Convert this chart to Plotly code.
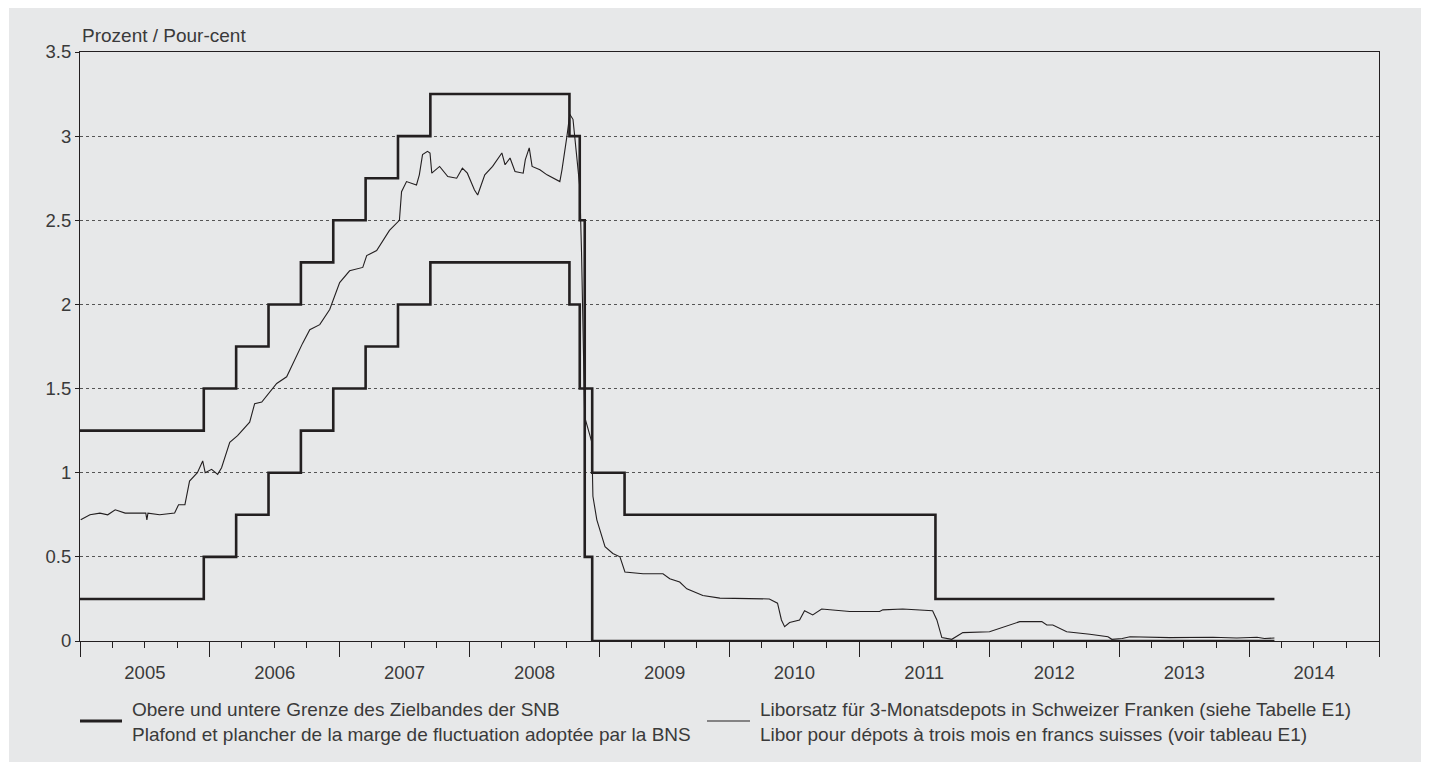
import plotly.graph_objects as go

# SNB target band (upper / lower), step changes
band_dates = ["2005-01-01", "2005-12-15", "2006-03-16", "2006-06-15", "2006-09-14",
              "2006-12-14", "2007-03-15", "2007-06-14", "2007-09-13", "2008-10-08",
              "2008-11-06", "2008-11-20", "2008-12-11", "2009-03-12", "2011-08-03",
              "2014-03-13"]
band_upper = [1.25, 1.5, 1.75, 2.0, 2.25, 2.5, 2.75, 3.0, 3.25, 3.0,
              2.5, 1.5, 1.0, 0.75, 0.25, 0.25]
band_lower = [0.25, 0.5, 0.75, 1.0, 1.25, 1.5, 1.75, 2.0, 2.25, 2.0,
              1.5, 0.5, 0.0, 0.0, 0.0, 0.0]

# 3-month CHF Libor
libor_dates = [
    "2005-01-03", "2005-01-29", "2005-02-26", "2005-03-20", "2005-04-10", "2005-05-08",
    "2005-06-18", "2005-07-05", "2005-07-08", "2005-07-11", "2005-08-13", "2005-09-24",
    "2005-10-05", "2005-10-23", "2005-11-05", "2005-11-27", "2005-12-12", "2005-12-19",
    "2006-01-06", "2006-01-23", "2006-02-03", "2006-02-26", "2006-03-20", "2006-04-23",
    "2006-05-07", "2006-05-27", "2006-07-08", "2006-08-05", "2006-09-19", "2006-10-09",
    "2006-11-06", "2006-12-04", "2007-01-01", "2007-01-29", "2007-03-07", "2007-03-18",
    "2007-04-15", "2007-05-21", "2007-06-18", "2007-06-24", "2007-07-08", "2007-08-05",
    "2007-08-13", "2007-08-22", "2007-09-05", "2007-09-12", "2007-09-17", "2007-10-09",
    "2007-11-01", "2007-11-26", "2007-12-12", "2007-12-26", "2008-01-15", "2008-01-24",
    "2008-02-13", "2008-03-06", "2008-04-01", "2008-04-10", "2008-04-24", "2008-05-08",
    "2008-05-31", "2008-06-06", "2008-06-17", "2008-06-25", "2008-07-17", "2008-08-06",
    "2008-09-11", "2008-09-17", "2008-10-01", "2008-10-09", "2008-10-18", "2008-10-29",
    "2008-11-06", "2008-11-11", "2008-11-20", "2008-12-10", "2008-12-13", "2008-12-24",
    "2009-01-16", "2009-02-07", "2009-02-27", "2009-03-13", "2009-05-03", "2009-06-28",
    "2009-07-17", "2009-08-14", "2009-09-03", "2009-10-18", "2009-12-05", "2010-04-23",
    "2010-05-16", "2010-05-27", "2010-06-05", "2010-06-19", "2010-07-17", "2010-07-31",
    "2010-08-23", "2010-09-17", "2010-12-05", "2011-02-27", "2011-03-08", "2011-05-03",
    "2011-07-26", "2011-08-07", "2011-08-21", "2011-09-18", "2011-10-19", "2012-01-02",
    "2012-01-30", "2012-03-27", "2012-05-28", "2012-06-11", "2012-06-28", "2012-08-06",
    "2012-10-10", "2012-11-30", "2012-12-11", "2013-01-09", "2013-01-31", "2013-05-23",
    "2013-09-21", "2013-11-27", "2014-01-23", "2014-02-13", "2014-03-13"]
libor_values = [
    0.72, 0.75, 0.76, 0.75, 0.78, 0.76,
    0.76, 0.76, 0.72, 0.76, 0.75, 0.76,
    0.81, 0.81, 0.95, 1.00, 1.07, 1.00,
    1.02, 0.99, 1.03, 1.18, 1.22, 1.30,
    1.41, 1.42, 1.53, 1.57, 1.77, 1.85,
    1.88, 1.97, 2.13, 2.20, 2.22, 2.29,
    2.32, 2.44, 2.50, 2.67, 2.73, 2.71,
    2.77, 2.89, 2.91, 2.90, 2.78, 2.82,
    2.76, 2.75, 2.81, 2.78, 2.68, 2.65,
    2.77, 2.82, 2.90, 2.83, 2.87, 2.79,
    2.78, 2.86, 2.93, 2.82, 2.80, 2.77,
    2.73, 2.80, 3.00, 3.13, 3.10, 2.88,
    2.70, 2.31, 1.33, 1.18, 0.86, 0.72,
    0.56, 0.52, 0.50, 0.41, 0.40, 0.40,
    0.37, 0.35, 0.31, 0.27, 0.255, 0.25,
    0.225, 0.125, 0.085, 0.11, 0.125, 0.18,
    0.155, 0.19, 0.175, 0.175, 0.185, 0.19,
    0.18, 0.125, 0.02, 0.01, 0.05, 0.055,
    0.075, 0.115, 0.115, 0.095, 0.095, 0.055,
    0.04, 0.025, 0.01, 0.015, 0.025, 0.02,
    0.022, 0.018, 0.022, 0.015, 0.018]

y_ticks = [0, 0.5, 1, 1.5, 2, 2.5, 3, 3.5]
y_tick_labels = ["0", "0.5", "1", "1.5", "2", "2.5", "3", "3.5"]

title_text = "Prozent / Pour-cent"
legend_band = ["Obere und untere Grenze des Zielbandes der SNB",
               "Plafond et plancher de la marge de fluctuation adoptée par la BNS"]
legend_libor = ["Liborsatz für 3-Monatsdepots in Schweizer Franken (siehe Tabelle E1)",
                "Libor pour dépots à trois mois en francs suisses (voir tableau E1)"]

INK = "#231f20"
TEXT = "#3a3a3a"
BG = "#e7e8e9"
FONT = "Liberation Sans"
FS_TICK = 18.5
FS_TEXT = 19

# page has an 8px body margin: figure coords = page coords - 8
OFF = 8
W, H = 1421, 754
L, T = 80 - OFF, 52 - OFF
R = W - (1379 - OFF)
B = H - (641 - OFF)
pw, ph = W - L - R, H - T - B

def px(page_x):
    return (page_x - OFF - L) / pw

def py(page_y):
    return (H - B - (page_y - OFF)) / ph

fig = go.Figure()
fig.add_trace(go.Scatter(x=libor_dates, y=libor_values, mode="lines",
                         line=dict(color=INK, width=1.1), showlegend=False))
fig.add_trace(go.Scatter(x=band_dates, y=band_upper, mode="lines", line_shape="hv",
                         line=dict(color=INK, width=2.6), showlegend=False))
fig.add_trace(go.Scatter(x=band_dates, y=band_lower, mode="lines", line_shape="hv",
                         line=dict(color=INK, width=2.6), showlegend=False))

shapes = [
    dict(type="rect", xref="paper", yref="paper", x0=px(9), x1=px(1440), y0=py(780), y1=py(7),
         fillcolor=BG, line=dict(width=0), layer="below"),
    dict(type="line", xref="paper", yref="paper", x0=px(80), x1=px(122), y0=py(721), y1=py(721),
         line=dict(color=INK, width=3)),
    dict(type="line", xref="paper", yref="paper", x0=px(707), x1=px(750), y0=py(721), y1=py(721),
         line=dict(color=INK, width=1.2)),
]

annotations = [
    dict(text=title_text, xref="paper", yref="paper", x=0, y=py(35), xanchor="left",
         yanchor="middle", showarrow=False, font=dict(size=FS_TEXT, color=TEXT, family=FONT)),
    dict(text="<br>".join(legend_band), xref="paper", yref="paper", x=px(130), y=py(722),
         xanchor="left", yanchor="middle", align="left", showarrow=False,
         font=dict(size=FS_TEXT, color=TEXT, family=FONT)),
    dict(text="<br>".join(legend_libor), xref="paper", yref="paper", x=px(758), y=py(722),
         xanchor="left", yanchor="middle", align="left", showarrow=False,
         font=dict(size=FS_TEXT, color=TEXT, family=FONT)),
]

fig.update_layout(
    width=W, height=H,
    margin=dict(l=L, r=R, t=T, b=B, pad=0),
    paper_bgcolor="white",
    plot_bgcolor="rgba(0,0,0,0)",
    font=dict(family=FONT, size=FS_TICK, color=TEXT),
    shapes=shapes,
    annotations=annotations,
    showlegend=False,
    xaxis=dict(
        type="date", range=["2005-01-01", "2015-01-01"],
        tick0="2005-01-01", dtick="M12", tickformat="%Y", ticklabelmode="period",
        ticks="outside", ticklen=15, tickwidth=1, tickcolor=INK,
        minor=dict(dtick="M3", tick0="2005-01-01", ticks="outside", ticklen=6,
                   tickwidth=1, tickcolor=INK, showgrid=False),
        showgrid=False, zeroline=False,
        showline=True, linecolor=INK, linewidth=1, mirror=True,
        tickfont=dict(size=FS_TICK, color=TEXT, family=FONT),
    ),
    yaxis=dict(
        range=[0, 3.5], tickvals=y_ticks, ticktext=y_tick_labels,
        ticks="outside", ticklen=4, tickwidth=1, tickcolor=INK,
        showgrid=True, gridcolor="#555555", gridwidth=1, griddash="dot",
        zeroline=False,
        showline=True, linecolor=INK, linewidth=1, mirror=True,
        tickfont=dict(size=FS_TICK, color=TEXT, family=FONT),
    ),
)

fig.write_html("out.html")
